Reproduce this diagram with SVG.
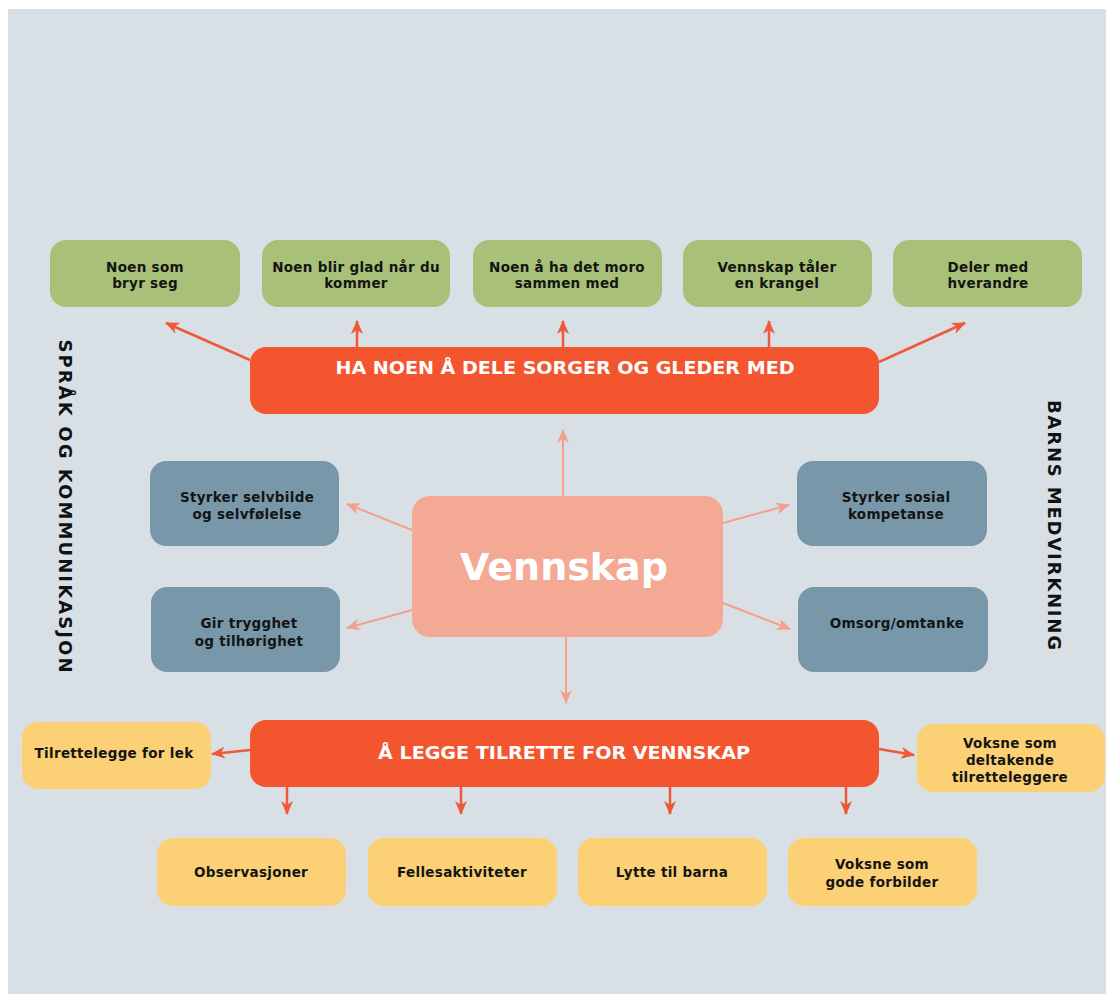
<svg xmlns="http://www.w3.org/2000/svg" width="1106" height="994" viewBox="0 0 1106 994">
<defs>
<style>
.bg{fill:#d8e0e6}
.green{fill:#a8c077}
.blue{fill:#7898aa}
.yellow{fill:#fcd074}
.bar{fill:#f3552e}
.center{fill:#f4a994}
.t{font-family:"DejaVu Sans","Verdana",sans-serif;font-weight:bold;font-size:13.5px;letter-spacing:0.3px;fill:#141414;text-anchor:middle}
.title{font-family:"DejaVu Sans",sans-serif;font-weight:bold;font-size:17px;fill:#ffffff;text-anchor:middle}
.big{font-family:"DejaVu Sans",sans-serif;font-weight:bold;font-size:38px;fill:#ffffff;text-anchor:middle}
.side{font-family:"DejaVu Sans",sans-serif;font-weight:bold;font-size:18px;fill:#111111;text-anchor:middle}
.ar{stroke:#f0583a;stroke-width:2.5;fill:none;marker-end:url(#ah)}
.al{stroke:#f4a08c;stroke-width:2;fill:none;marker-end:url(#ahl)}
</style>
<marker id="ah" viewBox="0 0 14 12" markerWidth="14" markerHeight="12" refX="13" refY="6" orient="auto" markerUnits="userSpaceOnUse">
<path d="M0,0 L14,6 L0,12 L4,6 z" fill="#f0583a"/>
</marker>
<marker id="ahl" viewBox="0 0 14 12" markerWidth="14" markerHeight="12" refX="13" refY="6" orient="auto" markerUnits="userSpaceOnUse">
<path d="M0,0 L14,6 L0,12 L4,6 z" fill="#f4a08c"/>
</marker>
</defs>
<rect x="8" y="9" width="1098" height="985" class="bg"/>

<g id="connectors">
<line class="ar" x1="250" y1="360" x2="166" y2="323"/>
<line class="ar" x1="357" y1="347" x2="357" y2="321"/>
<line class="ar" x1="563" y1="347" x2="563" y2="321"/>
<line class="ar" x1="769" y1="347" x2="769" y2="321"/>
<line class="ar" x1="879" y1="362" x2="965" y2="323"/>
<line class="al" x1="563" y1="496" x2="563" y2="430"/>
<line class="al" x1="566" y1="637" x2="566" y2="703"/>
<line class="al" x1="412" y1="530" x2="347" y2="504"/>
<line class="al" x1="412" y1="610" x2="347" y2="628"/>
<line class="al" x1="723" y1="523" x2="789" y2="505"/>
<line class="al" x1="723" y1="603" x2="790" y2="629"/>
<line class="ar" x1="250" y1="750" x2="212" y2="754"/>
<line class="ar" x1="879" y1="749" x2="914" y2="755"/>
<line class="ar" x1="287" y1="787" x2="287" y2="814"/>
<line class="ar" x1="461" y1="787" x2="461" y2="814"/>
<line class="ar" x1="670" y1="787" x2="670" y2="814"/>
<line class="ar" x1="846" y1="787" x2="846" y2="814"/>
</g>

<g id="g1"><rect class="green" x="50" y="240" width="190" height="67" rx="16"/><text class="t" x="145" y="272">Noen som</text><text class="t" x="145" y="288">bryr seg</text></g>
<g id="g2"><rect class="green" x="262" y="240" width="188" height="67" rx="16"/><text class="t" x="356" y="272">Noen blir glad når du</text><text class="t" x="356" y="288">kommer</text></g>
<g id="g3"><rect class="green" x="473" y="240" width="189" height="67" rx="16"/><text class="t" x="567" y="272">Noen å ha det moro</text><text class="t" x="567" y="288">sammen med</text></g>
<g id="g4"><rect class="green" x="683" y="240" width="189" height="67" rx="16"/><text class="t" x="777" y="272">Vennskap tåler</text><text class="t" x="777" y="288">en krangel</text></g>
<g id="g5"><rect class="green" x="893" y="240" width="189" height="67" rx="16"/><text class="t" x="988" y="272">Deler med</text><text class="t" x="988" y="288">hverandre</text></g>

<g id="topbar"><rect class="bar" x="250" y="347" width="629" height="67" rx="16"/><text class="title" x="565" y="374" textLength="459" lengthAdjust="spacingAndGlyphs">HA NOEN Å DELE SORGER OG GLEDER MED</text></g>

<g id="vennskap"><rect class="center" x="412" y="496" width="311" height="141" rx="18"/><text class="big" x="564" y="580">Vennskap</text></g>

<g id="b1"><rect class="blue" x="150" y="461" width="189" height="85" rx="16"/><text class="t" x="247" y="502">Styrker selvbilde</text><text class="t" x="247" y="519">og selvfølelse</text></g>
<g id="b2"><rect class="blue" x="151" y="587" width="189" height="85" rx="16"/><text class="t" x="249" y="628">Gir trygghet</text><text class="t" x="249" y="646">og tilhørighet</text></g>
<g id="b3"><rect class="blue" x="797" y="461" width="190" height="85" rx="16"/><text class="t" x="896" y="502">Styrker sosial</text><text class="t" x="896" y="519">kompetanse</text></g>
<g id="b4"><rect class="blue" x="798" y="587" width="190" height="85" rx="16"/><text class="t" x="897" y="628">Omsorg/omtanke</text></g>

<g id="bottombar"><rect class="bar" x="250" y="720" width="629" height="67" rx="16"/><text class="title" x="564" y="759" textLength="372" lengthAdjust="spacingAndGlyphs">Å LEGGE TILRETTE FOR VENNSKAP</text></g>

<g id="y1"><rect class="yellow" x="22" y="722" width="189" height="67" rx="16"/><text class="t" x="114" y="758">Tilrettelegge for lek</text></g>
<g id="y2"><rect class="yellow" x="917" y="724" width="188" height="68" rx="16"/><text class="t" x="1010" y="748">Voksne som</text><text class="t" x="1010" y="765">deltakende</text><text class="t" x="1010" y="782">tilretteleggere</text></g>
<g id="y3"><rect class="yellow" x="157" y="838" width="189" height="68" rx="16"/><text class="t" x="251" y="877">Observasjoner</text></g>
<g id="y4"><rect class="yellow" x="368" y="838" width="189" height="68" rx="16"/><text class="t" x="462" y="877">Fellesaktiviteter</text></g>
<g id="y5"><rect class="yellow" x="578" y="838" width="189" height="68" rx="16"/><text class="t" x="672" y="877">Lytte til barna</text></g>
<g id="y6"><rect class="yellow" x="788" y="838" width="189" height="68" rx="16"/><text class="t" x="882" y="869">Voksne som</text><text class="t" x="882" y="887">gode forbilder</text></g>

<g id="side-left"><text class="side" transform="translate(58.5,506) rotate(90)" x="0" y="0" textLength="333" lengthAdjust="spacing">SPRÅK OG KOMMUNIKASJON</text></g>
<g id="side-right"><text class="side" transform="translate(1047.5,525) rotate(90)" x="0" y="0" textLength="250" lengthAdjust="spacing">BARNS MEDVIRKNING</text></g>
</svg>
